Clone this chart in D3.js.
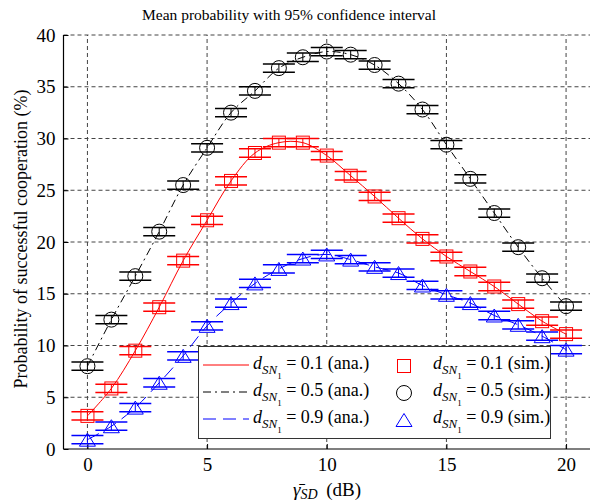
<!DOCTYPE html>
<html>
<head>
<meta charset="utf-8">
<script src="https://cdn.jsdelivr.net/npm/d3@7"></script>
<style>
  html, body { margin: 0; padding: 0; background: #fff; }
</style>
</head>
<body>
<svg id="chart" width="590" height="503"></svg>
<script>
// ---- data ----
const snr = [0,1,2,3,4,5,6,7,8,9,10,11,12,13,14,15,16,17,18,19,20];
const d01 = [3.2, 5.85, 9.5, 13.7, 18.2, 22.1, 25.9, 28.6, 29.6, 29.6, 28.35, 26.4, 24.4, 22.3, 20.3, 18.6, 17.15, 15.7, 14.0, 12.35, 11.1];
const d05 = [8.0, 12.5, 16.7, 21.0, 25.5, 29.1, 32.5, 34.6, 36.8, 37.85, 38.4, 38.1, 37.1, 35.3, 32.8, 29.4, 26.1, 22.8, 19.5, 16.5, 13.8];
const d09 = [0.9, 2.2, 4.0, 6.4, 9.0, 11.9, 14.1, 16.0, 17.4, 18.4, 18.8, 18.3, 17.6, 17.0, 15.8, 14.9, 14.1, 12.9, 12.0, 10.9, 9.6];
const ciHalf = 0.4;
const xTicks = [0, 5, 10, 15, 20];
const yTicks = [0, 5, 10, 15, 20, 25, 30, 35, 40];
const seriesLabels = ["0.1", "0.5", "0.9"];

(function () {
const FONT = '"Liberation Serif"';
const series = [
  {vals: d01, color: "#ff0000", dash: null, marker: "square", label: seriesLabels[0]},
  {vals: d05, color: "#000000", dash: "8,4,2,4", marker: "circle", label: seriesLabels[1]},
  {vals: d09, color: "#0000ff", dash: "13,7", marker: "triangle", label: seriesLabels[2]}
];

const svg = d3.select("#chart");
const pL = 63.5, pR = 590, pT = 35, pB = 449;
const x = d3.scaleLinear().domain([-1, 21]).range([pL, pR]);
const y = d3.scaleLinear().domain([0, 40]).range([pB, pT]);

// grid
const grid = svg.append("g").attr("stroke", "#444").attr("stroke-width", 1).attr("stroke-dasharray", "4,3");
xTicks.forEach(t => grid.append("line").attr("x1", x(t)).attr("x2", x(t)).attr("y1", pB).attr("y2", pT));
yTicks.filter(t => t > 0).forEach(t => grid.append("line").attr("x1", pL).attr("x2", pR).attr("y1", y(t)).attr("y2", y(t)));

// axes
const yAxis = d3.axisLeft(y).tickValues(yTicks).tickSizeInner(-5).tickSizeOuter(0).tickPadding(8);
const gy = svg.append("g").attr("transform", `translate(${pL},0)`).call(yAxis);
const xAxis = d3.axisBottom(x).tickValues(xTicks).tickSizeInner(-5).tickSizeOuter(0).tickPadding(9);
const gx = svg.append("g").attr("transform", `translate(0,${pB})`).call(xAxis);
[gx, gy].forEach(g => {
  g.selectAll("text").style("font-size", "19px").attr("fill", "#000");
  g.selectAll("line").attr("stroke", "#000");
  g.select(".domain").attr("stroke", "#000").attr("stroke-width", 1.2);
});
gx.select(".domain").attr("d", `M${pL},0H${pR}`);
gy.select(".domain").attr("d", `M0,${pB}V${pT}`);
gx.selectAll("text").attr("dy", "0.71em");

// title
svg.append("text").attr("x", 289).attr("y", 20).attr("text-anchor", "middle")
  .style("font-size", "15.5px").text("Mean probability with 95% confidence interval");

// y label
svg.append("text").attr("transform", "translate(27,239) rotate(-90)").attr("text-anchor", "middle")
  .style("font-size", "18px").text("Probability of successful cooperation (%)");

// x label
const xl = svg.append("text").attr("x", 327).attr("y", 496).attr("text-anchor", "middle").style("font-size", "19px");
xl.append("tspan").attr("font-style", "italic").text("γ\u0304");
xl.append("tspan").attr("font-style", "italic").style("font-size", "14px").attr("dy", 3).text("SD");
xl.append("tspan").attr("dy", -3).text("\u2009 (dB)");

// curves
const line = d3.line().x((d, i) => x(snr[i])).y(d => y(d)).curve(d3.curveCatmullRom);
series.forEach(s => {
  svg.append("path").datum(s.vals).attr("d", line).attr("fill", "none")
    .attr("stroke", s.color).attr("stroke-width", 1)
    .attr("stroke-dasharray", s.dash);
});

function drawMarker(g, type, cx, cy, color) {
  if (type === "square") {
    g.append("rect").attr("x", cx - 6.5).attr("y", cy - 6.5).attr("width", 13).attr("height", 13)
      .attr("fill", "none").attr("stroke", color).attr("stroke-width", 1);
  } else if (type === "circle") {
    g.append("circle").attr("cx", cx).attr("cy", cy).attr("r", 7.5)
      .attr("fill", "none").attr("stroke", color).attr("stroke-width", 1);
  } else {
    const h = 13, w = 16;
    g.append("path").attr("d", `M${cx},${cy - h/2}L${cx + w/2},${cy + h/2}L${cx - w/2},${cy + h/2}Z`)
      .attr("fill", "none").attr("stroke", color).attr("stroke-width", 1);
  }
}

// error bars + markers
series.forEach(s => {
  const g = svg.append("g");
  s.vals.forEach((v, i) => {
    const cx = x(snr[i]);
    const yl = y(v - ciHalf), yu = y(v + ciHalf);
    g.append("line").attr("x1", cx).attr("x2", cx).attr("y1", yl).attr("y2", yu).attr("stroke", s.color).attr("stroke-width", 1);
    [yl, yu].forEach(yy => g.append("line").attr("x1", cx - 16).attr("x2", cx + 16).attr("y1", yy).attr("y2", yy)
      .attr("stroke", s.color).attr("stroke-width", 1.5));
    drawMarker(g, s.marker, cx, y(v), s.color);
  });
});

// legend
const lg = svg.append("g");
lg.append("rect").attr("x", 198.5).attr("y", 346.5).attr("width", 352).attr("height", 92)
  .attr("fill", "#fff").attr("stroke", "#333").attr("stroke-width", 1);
function legendText(tx, ty, val, kind) {
  const t = lg.append("text").attr("x", tx).attr("y", ty).style("font-size", "18px");
  t.append("tspan").attr("font-style", "italic").text("d");
  t.append("tspan").attr("font-style", "italic").style("font-size", "13px").attr("dy", 5).text("SN");
  t.append("tspan").style("font-size", "9px").attr("dy", 5).text("1");
  t.append("tspan").attr("dy", -10).text(` = ${val} (${kind})`);
}
const rowY = [365, 392, 419];
series.forEach((s, i) => {
  const ry = rowY[i];
  lg.append("line").attr("x1", 203).attr("x2", 249).attr("y1", ry).attr("y2", ry)
    .attr("stroke", s.color).attr("stroke-width", 1).attr("stroke-dasharray", s.dash);
  legendText(253, ry + 4, s.label, "ana.");
  drawMarker(lg, s.marker, 404, ry + 1, s.color);
  legendText(433, ry + 4, s.label, "sim.");
});

svg.selectAll("text").style("font-family", FONT);
gx.attr("font-family", null); gy.attr("font-family", null);
})();
</script>
</body>
</html>
